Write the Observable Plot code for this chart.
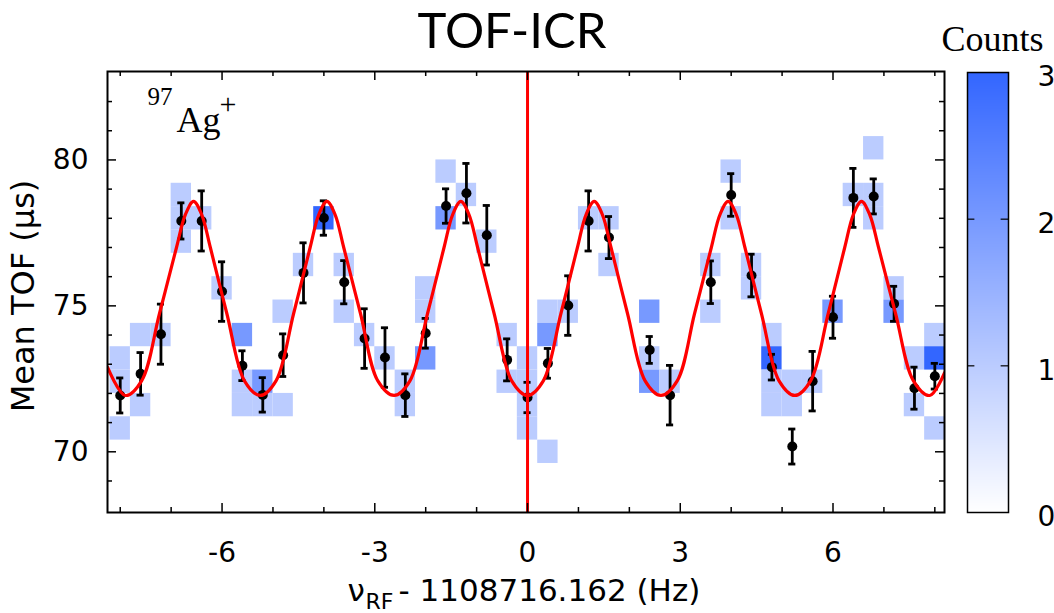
<!DOCTYPE html>
<html><head><meta charset="utf-8">
<script src="https://cdn.jsdelivr.net/npm/d3@7"></script>
<script src="https://cdn.jsdelivr.net/npm/@observablehq/plot@0.6"></script>
<style>
html,body{margin:0;padding:0;background:#fff;overflow:hidden;}
#wrap{position:relative;width:1054px;height:613px;}
#wrap svg{position:absolute;top:0;}
</style></head><body><div id="wrap"></div><script>
// ---- 2D histogram cells (x bin centre in Hz, lower TOF edge of 0.8 µs bin, counts)
const cellX = [-8.0,-8.0,-8.0, -7.6,-7.6, -7.2, -6.8,-6.8,-6.8, -6.4, -6.0, -5.6,-5.6,-5.6, -5.2,-5.2, -4.8,-4.8, -4.4, -4.0, -3.6,-3.6, -3.2, -2.8, -2.4,-2.4, -2.0,-2.0,-2.0, -1.6,-1.6, -1.2, -0.8, -0.4,-0.4, 0.0,0.0,0.0,0.0, 0.4,0.4,0.4, 0.8, 1.2, 1.6,1.6, 2.4,2.4,2.4, 2.8, 3.6,3.6, 4.0,4.0, 4.4,4.4, 4.8,4.8,4.8,4.8, 5.2,5.2, 5.6, 6.0, 6.4, 6.8,6.8,6.8, 7.2,7.2, 7.6,7.6, 8.0,8.0,8.0];
const cellTOF = [72.8,72.0,70.4, 73.6,71.2, 73.6, 78.4,77.6,76.8, 77.6, 75.2, 73.6,72.0,71.2, 72.0,71.2, 74.4,71.2, 76.0, 77.6, 76.0,74.4, 73.6, 72.8, 72.0,71.2, 75.2,74.4,72.8, 79.2,77.6, 78.4, 76.8, 73.6,72.0, 72.8,72.0,71.2,70.4, 74.4,73.6,69.6, 74.4, 77.6, 77.6,76.0, 74.4,72.8,72.0, 72.0, 76.0,74.4, 79.2,77.6, 76.0,75.2, 73.6,72.8,72.0,71.2, 72.0,71.2, 72.0, 74.4, 78.4, 80.0,78.4,77.6, 75.2,74.4, 72.8,71.2, 73.6,72.8,70.4];
const cellCount = [1,1,1, 1,1, 1, 1,1,1, 1, 1, 2,1,1, 2,1, 1,1, 1, 3, 1,1, 1, 1, 1,1, 1,1,2, 1,2, 1, 1, 1,1, 1,1,1,1, 1,2,1, 1, 1, 1,1, 2,1,2, 1, 1,1, 1,1, 1,1, 1,3,1,1, 1,1, 1, 2, 1, 1,1,1, 1,2, 1,1, 1,3,1];

// ---- mean TOF per frequency step with error
const ptX = [-8.0,-7.6,-7.2,-6.8,-6.4,-6.0,-5.6,-5.2,-4.8,-4.4,-4.0,-3.6,-3.2,-2.8,-2.4,-2.0,-1.6,-1.2,-0.8,-0.4,0.0,0.4,0.8,1.2,1.6,2.4,2.8,3.6,4.0,4.4,4.8,5.2,5.6,6.0,6.4,6.8,7.2,7.6,8.0];
const ptTOF = [71.93,72.67,74.03,77.91,77.91,75.49,72.95,71.95,73.31,76.13,78.01,75.81,73.88,73.23,71.94,74.06,78.42,78.86,77.42,73.15,71.86,73.03,75.01,77.91,77.34,73.49,71.94,75.81,78.80,76.04,72.90,70.18,72.42,74.61,78.70,78.75,75.07,72.18,72.59];
const ptErr = [0.60,0.73,1.03,0.62,1.03,1.02,0.51,0.59,0.73,1.03,0.59,0.74,1.02,1.02,0.73,0.51,0.59,1.02,1.02,0.72,0.52,0.51,1.02,1.03,0.72,0.46,1.02,0.73,0.73,0.73,0.44,0.60,1.02,0.72,1.01,0.60,0.60,0.72,0.44];

// ---- fitted curve, points
const fitX = [-8.25,-7.9, -7.58,-7.23,-6.895,-6.72,-6.56, -6.40,-6.23,-5.905,-5.56,-5.25, -4.94,-4.595,-4.27,-4.10,-3.94, -3.78,-3.61,-3.28,-2.94,-2.62, -2.31,-1.965,-1.64,-1.47,-1.31, -1.15,-0.98,-0.655,-0.31,0.0, 0.31,0.655,0.98,1.15,1.31, 1.47,1.64,1.965,2.31,2.62, 2.94,3.28,3.61,3.78,3.94, 4.10,4.27,4.595,4.94,5.25, 5.56,5.905,6.23,6.40,6.56, 6.72,6.895,7.23,7.58,7.9, 8.19];
const fitTOF = [72.9,71.93, 72.43,74.73,77.0,78.13,78.58, 78.13,77.0,74.73,72.43,71.93, 72.43,74.73,77.0,78.13,78.58, 78.13,77.0,74.73,72.43,71.93, 72.43,74.73,77.0,78.13,78.58, 78.13,77.0,74.73,72.43,71.93, 72.43,74.73,77.0,78.13,78.58, 78.13,77.0,74.73,72.43,71.93, 72.43,74.73,77.0,78.13,78.58, 78.13,77.0,74.73,72.43,71.93, 72.43,74.73,77.0,78.13,78.58, 78.13,77.0,74.73,72.43,71.93, 72.7];

// ---- ticks
const xMajor = [-6,-3,0,3,6];
const xMinor = [-8,-7,-5,-4,-2,-1,1,2,4,5,7,8];
const yMajor = [70,75,80];
const yMinor = [69,71,72,73,74,76,77,78,79,81,82];
const cbTicks = [0,1,2,3];
const cbInner = [1,2];

const cells = cellX.map((x,i)=>({x, tof: cellTOF[i], n: cellCount[i]}));
const pts = ptX.map((x,i)=>({x, tof: ptTOF[i], err: ptErr[i]}));
const fit = fitX.map((x,i)=>({x, tof: fitTOF[i]}));

const W = 1054, H = 613, mL = 107, mR = 110, mT = 71, mB = 101;
const fw = W - mL - mR, fh = H - mT - mB;
const BIN_W = 0.4, BIN_H = 0.8, CAP = 0.07;
const colorOpts = {type: "linear", domain: [0, 3], range: ["#ffffff", "#3366ff"]};
const sans = "'DejaVu Sans', 'Liberation Sans', sans-serif";
const serif = "'Liberation Serif', 'DejaVu Serif', serif";
const tk = {stroke: "#000", strokeWidth: 1.5};

const main = Plot.plot({
  width: W, height: H,
  marginLeft: mL, marginRight: mR, marginTop: mT, marginBottom: mB,
  x: {domain: [-8.25, 8.19]},
  y: {domain: [67.92, 83.03]},
  color: colorOpts,
  style: {fontFamily: sans, fontSize: "28px", color: "#000", background: "#fff"},
  marks: [
    Plot.rect(cells, {x1: d => d.x - BIN_W/2, x2: d => d.x + BIN_W/2, y1: "tof", y2: d => d.tof + BIN_H, fill: "n", clip: true}),
    Plot.ruleX(pts, {x: "x", y1: d => d.tof - d.err, y2: d => d.tof + d.err, stroke: "#000", strokeWidth: 2.8}),
    Plot.ruleY(pts, {y: d => d.tof - d.err, x1: d => d.x - CAP, x2: d => d.x + CAP, stroke: "#000", strokeWidth: 2.8}),
    Plot.ruleY(pts, {y: d => d.tof + d.err, x1: d => d.x - CAP, x2: d => d.x + CAP, stroke: "#000", strokeWidth: 2.8}),
    Plot.dot(pts, {x: "x", y: "tof", r: 5, fill: "#000"}),
    Plot.line(fit, {x: "x", y: "tof", stroke: "#ff0000", strokeWidth: 3.2, curve: "catmull-rom", clip: true}),
    Plot.ruleX([0], {stroke: "#ff0000", strokeWidth: 3}),
    Plot.tickX(xMajor, {x: d => d, insetTop: fh - 9, ...tk}),
    Plot.tickX(xMajor, {x: d => d, insetBottom: fh - 9, ...tk}),
    Plot.tickX(xMinor, {x: d => d, insetTop: fh - 5, ...tk}),
    Plot.tickX(xMinor, {x: d => d, insetBottom: fh - 5, ...tk}),
    Plot.tickY(yMajor, {y: d => d, insetRight: fw - 9, ...tk}),
    Plot.tickY(yMajor, {y: d => d, insetLeft: fw - 9, ...tk}),
    Plot.tickY(yMinor, {y: d => d, insetRight: fw - 5, ...tk}),
    Plot.tickY(yMinor, {y: d => d, insetLeft: fw - 5, ...tk}),
    Plot.frame({stroke: "#000", strokeWidth: 2}),
    Plot.axisX(xMajor, {tickSize: 0, tickPadding: 30, tickFormat: d => String(d), label: null, fontSize: 28}),
    Plot.axisY(yMajor, {tickSize: 0, tickPadding: 19, tickFormat: d => String(d), label: null, fontSize: 28}),
    Plot.text(["TOF-ICR"], {frameAnchor: "top", dx: -14, dy: -24, fontSize: 49, fontFamily: "Lato, 'Open Sans', sans-serif", textAnchor: "middle", lineAnchor: "bottom"}),
    Plot.text(["Mean TOF (µs)"], {frameAnchor: "left", dx: -84, dy: 4, rotate: -90, fontSize: 32, textAnchor: "middle", lineAnchor: "middle"}),
    Plot.text(["ν"], {frameAnchor: "bottom-left", dx: 240, dy: 88, fontSize: 31, textAnchor: "start", lineAnchor: "bottom"}),
    Plot.text(["RF"], {frameAnchor: "bottom-left", dx: 258, dy: 96, fontSize: 22, textAnchor: "start", lineAnchor: "bottom"}),
    Plot.text(["- 1108716.162 (Hz)"], {frameAnchor: "bottom-left", dx: 291, dy: 88, fontSize: 31, textAnchor: "start", lineAnchor: "bottom"}),
    Plot.text(["97"], {frameAnchor: "top-left", dx: 40, dy: 33, fontSize: 25, fontFamily: serif, textAnchor: "start", lineAnchor: "bottom"}),
    Plot.text(["Ag"], {frameAnchor: "top-left", dx: 69, dy: 60, fontSize: 36, fontFamily: serif, textAnchor: "start", lineAnchor: "bottom"}),
    Plot.text(["+"], {frameAnchor: "top-left", dx: 112, dy: 42, fontSize: 30, fontFamily: serif, textAnchor: "start", lineAnchor: "bottom"}),
    Plot.text(["Counts"], {frameAnchor: "top-right", dx: -3, dy: -21, fontSize: 36, fontFamily: serif, textAnchor: "start", lineAnchor: "bottom"})
  ]
});

const cbMarks = [];
if (Plot.raster) {
  cbMarks.push(Plot.raster({fill: (x, y) => y, x1: 0, x2: 1, y1: 0, y2: 3}));
}
cbMarks.push(
  Plot.ruleY(cbInner, {y: d => d, x1: 0, x2: 0.18, stroke: "#000", strokeWidth: 1.2}),
  Plot.ruleY(cbInner, {y: d => d, x1: 0.82, x2: 1, stroke: "#000", strokeWidth: 1.2}),
  Plot.frame({stroke: "#000", strokeWidth: 1.5}),
  Plot.axisY(cbTicks, {anchor: "right", tickSize: 0, tickPadding: 29, dy: 5, tickFormat: d => String(d), label: null, fontSize: 28})
);
const cb = Plot.plot({
  width: 104, height: H,
  marginLeft: 17, marginRight: 46, marginTop: 72, marginBottom: 101,
  x: {domain: [0, 1], axis: null},
  y: {domain: [0, 3]},
  color: colorOpts,
  style: {fontFamily: sans, fontSize: "28px", color: "#000", background: "transparent"},
  marks: cbMarks
});

const wrap = document.getElementById("wrap");
main.style.left = "0px";
cb.style.left = "950px";
wrap.appendChild(main);
wrap.appendChild(cb);
</script></body></html>
